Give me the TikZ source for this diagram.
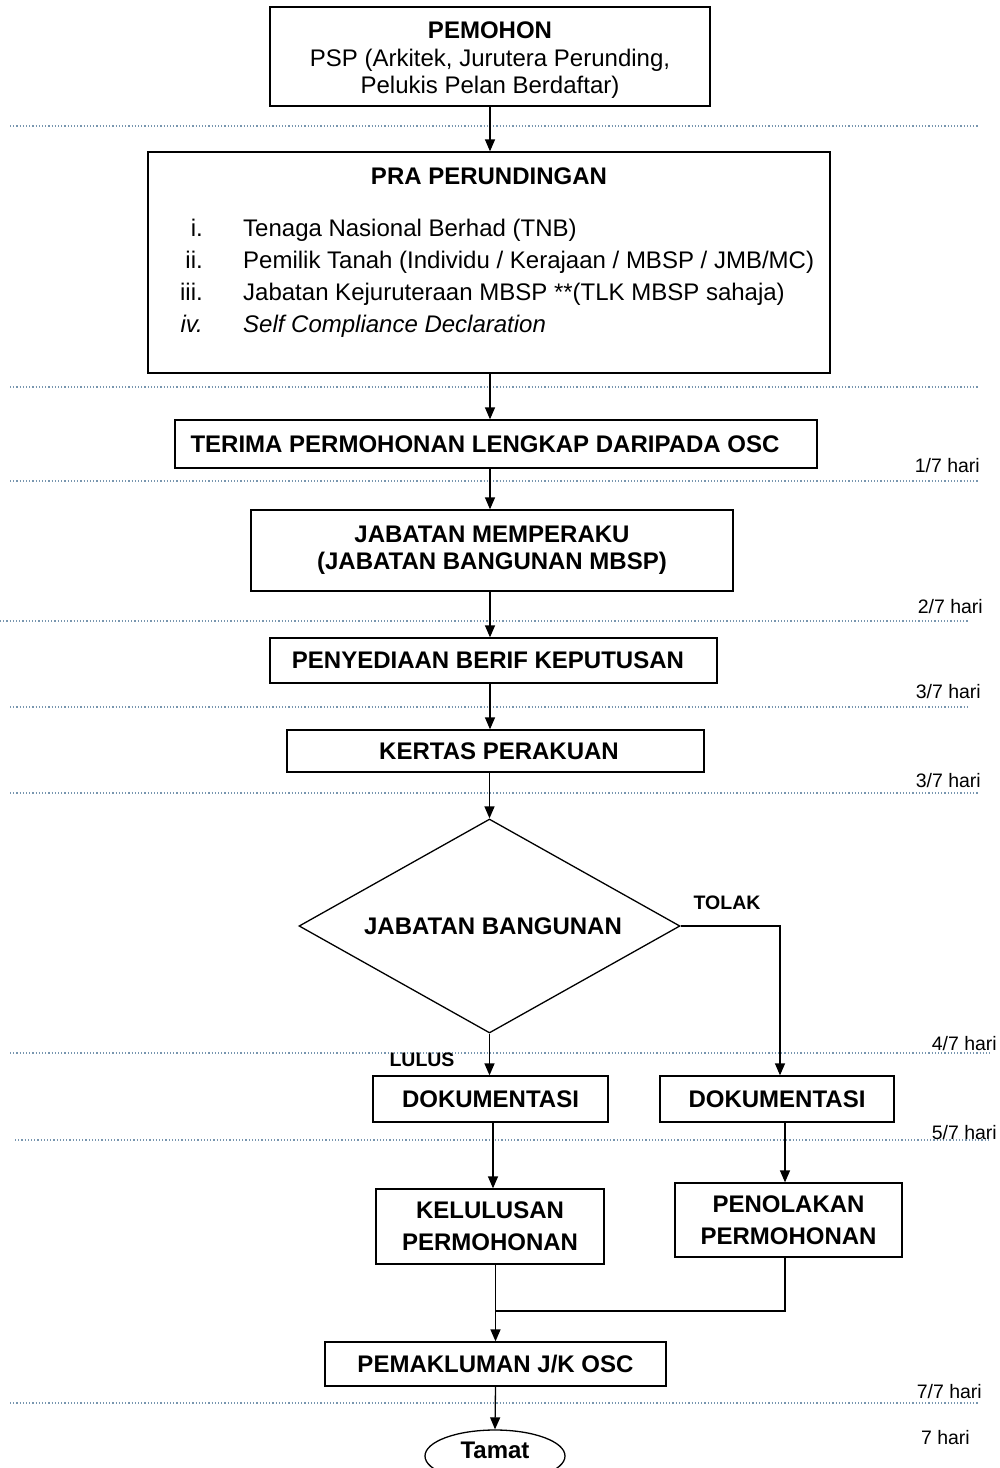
\documentclass[tikz,border=0pt]{standalone}
\usepackage{fontspec}
\setmainfont{Liberation Sans}
\usetikzlibrary{arrows.meta,shapes.geometric,calc}
\definecolor{sepc}{RGB}{120,150,175}
\tikzset{
  box/.style={draw=black, line width=1.3pt, inner sep=0pt, align=center,
    font=\bfseries\fontsize{24}{27.5}\selectfont},
  conn/.style={line width=1.3pt, -{Triangle[length=12pt,width=10pt]}},
  plain/.style={line width=1.3pt},
  sepline/.style={draw=sepc, line width=1.2pt, dotted},
  hari/.style={font=\fontsize{19.5}{22}\selectfont, anchor=east, inner sep=0pt},
  lab/.style={font=\bfseries\fontsize{19.5}{22}\selectfont, inner sep=0pt},
  txt/.style={font=\fontsize{24}{27}\selectfont, inner sep=0pt},
  ttl/.style={font=\bfseries\fontsize{24}{27}\selectfont, inner sep=0pt},
}
\begin{document}
\begin{tikzpicture}[x=1pt,y=-1pt]
\useasboundingbox (0,0) rectangle (1000,1468);
\fill[white] (0,0) rectangle (1000,1468);

% separators
\draw[sepline] (10,126) -- (978,126);
\draw[sepline] (10,387) -- (978,387);
\draw[sepline] (10,481) -- (978,481);
\draw[sepline] (0,621) -- (968,621);
\draw[sepline] (10,707) -- (968,707);
\draw[sepline] (10,793) -- (978,793);
\draw[sepline] (10,1053) -- (990,1053);
\draw[sepline] (15,1140) -- (990,1140);
\draw[sepline] (10,1403) -- (978,1403);

% boxes
\node[box, minimum width=440, minimum height=99] (pemohon) at (490,56.5) {};
\node[align=center, inner sep=0pt, font=\fontsize{24}{27.5}\selectfont] (pemohonT) at (490,60.5)
  {\textbf{PEMOHON}\\PSP (Arkitek, Jurutera Perunding,\\Pelukis Pelan Berdaftar)};

\node[box, minimum width=682, minimum height=221] (pra) at (489,262.5) {};
\node[ttl] (praT) at (489,176) {PRA PERUNDINGAN};
\node[txt, anchor=base east] (n1) at (203,236) {i.};
\node[txt, anchor=base west] (t1) at (243,236) {Tenaga Nasional Berhad (TNB)};
\node[txt, anchor=base east] (n2) at (203,268) {ii.};
\node[txt, anchor=base west] (t2) at (243,268) {Pemilik Tanah (Individu / Kerajaan / MBSP / JMB/MC)};
\node[txt, anchor=base east] (n3) at (203,300) {iii.};
\node[txt, anchor=base west] (t3) at (243,300) {Jabatan Kejuruteraan MBSP **(TLK MBSP sahaja)};
\node[txt, anchor=base east] (n4) at (203,332) {\itshape iv.};
\node[txt, anchor=base west] (t4) at (243,332) {\itshape Self Compliance Declaration};

\node[box, minimum width=642, minimum height=48] (terima) at (496,444)
  {TERIMA PERMOHONAN LENGKAP DARIPADA OSC\hspace*{22pt}};

\node[box, minimum width=482, minimum height=81, font=\bfseries\fontsize{24}{27}\selectfont] (memperaku) at (492,550.5)
  {JABATAN MEMPERAKU\\(JABATAN BANGUNAN MBSP)};

\node[box, minimum width=447, minimum height=45] (berif) at (493.5,660.5)
  {PENYEDIAAN BERIF KEPUTUSAN\hspace*{11pt}};

\node[box, minimum width=417, minimum height=42] (kertas) at (495.5,751)
  {\hspace*{7pt}KERTAS PERAKUAN};

\node[draw=black, line width=1.3pt, shape=diamond, inner sep=0pt, aspect=1.78,
      minimum width=381, minimum height=214,
      font=\bfseries\fontsize{24}{27}\selectfont] (dia) at (489.5,926)
  {\hspace*{7pt}JABATAN BANGUNAN};

\node[box, minimum width=235, minimum height=46] (dokL) at (490.5,1099) {DOKUMENTASI};
\node[box, minimum width=234, minimum height=46] (dokR) at (777,1099) {DOKUMENTASI};

\node[box, minimum width=228, minimum height=75, font=\bfseries\fontsize{24}{32}\selectfont] (kel) at (490,1226.5)
  {KELULUSAN\\PERMOHONAN};
\node[box, minimum width=227, minimum height=74, font=\bfseries\fontsize{24}{32}\selectfont] (pen) at (788.5,1220)
  {PENOLAKAN\\PERMOHONAN};

\node[box, minimum width=341, minimum height=44] (pemak) at (495.5,1364) {PEMAKLUMAN J/K OSC};

\node[draw=black, line width=1.3pt, shape=ellipse, inner sep=0pt,
      minimum width=140, minimum height=52,
      font=\bfseries\fontsize{24}{27}\selectfont] (tamat) at (495,1456)
  {\raisebox{6pt}[\height][\depth]{Tamat}};

% labels
\node[lab] (tolak) at (727,903) {TOLAK};
\node[lab] (lulus) at (422,1060) {LULUS};
\node[hari] (h1) at (980,466) {1/7 hari};
\node[hari] (h2) at (983,607) {2/7 hari};
\node[hari] (h3) at (981,692) {3/7 hari};
\node[hari] (h4) at (981,781) {3/7 hari};
\node[hari] (h5) at (997,1044) {4/7 hari};
\node[hari] (h6) at (997,1133) {5/7 hari};
\node[hari] (h7) at (982,1392) {7/7 hari};
\node[hari] (h8) at (970,1438) {7 hari};

% connectors
\draw[conn] (pemohon.south) -- (pemohon.south |- pra.north);
\draw[conn] (pra.south -| 490,0) -- (terima.north -| 490,0);
\draw[conn] (terima.south -| 490,0) -- (memperaku.north -| 490,0);
\draw[conn] (memperaku.south -| 490,0) -- (berif.north -| 490,0);
\draw[conn] (berif.south -| 490,0) -- (kertas.north -| 490,0);
\draw[conn] (dia.north |- kertas.south) -- (dia.north);
\draw[conn] (dia.south) -- (dia.south |- dokL.north);
\coordinate (tk) at (780,0);
\draw[conn] (dia.east) -- (dia.east -| tk) -- (dokR.north -| tk);
\draw[conn] (dokL.south -| 493,0) -- (kel.north -| 493,0);
\draw[conn] (dokR.south -| 785,0) -- (pen.north -| 785,0);
\coordinate (join) at (pemak.north |- 0,1311);
\draw[conn] (pemak.north |- kel.south) -- (pemak.north);
\draw[plain] (pen.south -| 785,0) |- (join);
\draw[conn] (pemak.south) -- (tamat.north);
\end{tikzpicture}
\end{document}
